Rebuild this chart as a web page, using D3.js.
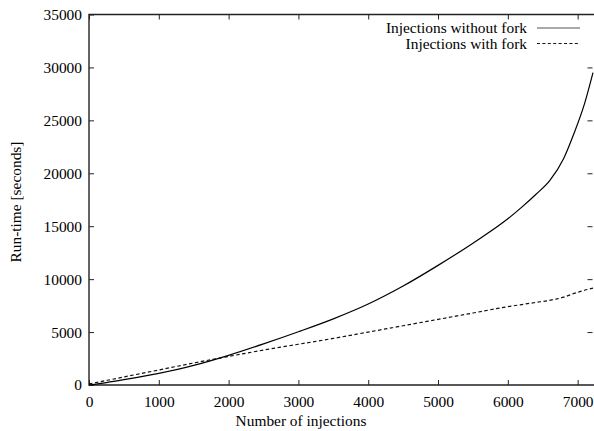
<!DOCTYPE html>
<html>
<head>
<meta charset="utf-8">
<script src="https://cdn.jsdelivr.net/npm/d3@7"></script>
<style>
  body { margin: 0; background: #fff; }
  text { font-family: "Liberation Serif", "DejaVu Serif", serif; font-size: 15.4px; fill: #000; }
</style>
</head>
<body>
<div class="chart"></div>
<script>
// data
var injections = [0, 250, 500, 1000, 1500, 2000, 2500, 3000, 3500, 4000, 4500, 5000,
  5500, 6000, 6200, 6400, 6600, 6800, 6950, 7100, 7220];
var withoutFork = [0, 230, 500, 1100, 1850, 2800, 3880, 5030, 6250, 7650, 9350, 11300,
  13400, 15700, 16800, 18000, 19300, 21400, 23800, 26600, 29500];
var withFork = [100, 430, 760, 1420, 2080, 2700, 3300, 3850, 4400, 5000, 5600, 6200,
  6800, 7400, 7600, 7800, 8000, 8300, 8650, 8950, 9150];
var xTicks = [0, 1000, 2000, 3000, 4000, 5000, 6000, 7000];
var yTicks = [0, 5000, 10000, 15000, 20000, 25000, 30000, 35000];
var seriesNames = ["Injections without fork", "Injections with fork"];

var svgWidth = 594;
var svgHeight = 431;

var margin = { top: 14.5, bottom: 46, right: 1, left: 89 };

var width = svgWidth - margin.left - margin.right;
var height = svgHeight - margin.top - margin.bottom;

var svg = d3
  .select(".chart")
  .append("svg")
  .attr("width", svgWidth)
  .attr("height", svgHeight);

var chartGroup = svg
  .append("g")
  .attr("transform", `translate(${margin.left}, ${margin.top})`);

// scales
var xScale = d3.scaleLinear().domain([0, 7220]).range([0, width]);
var yScale = d3.scaleLinear().domain([0, 35000]).range([height, 0]);

var axisColor = "#222";
var plain = d3.format("d");

// frame (right edge sits just off the canvas)
chartGroup
  .append("path")
  .attr("d", `M${width + 2},0H0V${height}H${width + 2}`)
  .attr("fill", "none")
  .attr("stroke", axisColor)
  .attr("stroke-width", 1.4);

// axes, ticks pointing inward like gnuplot
var bottomAxis = d3.axisBottom(xScale).tickValues(xTicks).tickSize(-5).tickPadding(11).tickFormat(plain);
var topAxis = d3.axisTop(xScale).tickValues(xTicks).tickSize(-5).tickFormat("");
var leftAxis = d3.axisLeft(yScale).tickValues(yTicks).tickSize(-5).tickPadding(7).tickFormat(plain);
var rightAxis = d3.axisRight(yScale).tickValues(yTicks.slice(1, -1)).tickSize(-5).tickFormat("");

function styleAxis(g) {
  g.select(".domain").remove();
  g.selectAll(".tick line").attr("stroke", axisColor).attr("stroke-width", 1);
  g.selectAll(".tick text")
    .attr("font-family", null)
    .attr("font-size", null)
    .attr("fill", "#000");
}

chartGroup.append("g").attr("transform", `translate(0, ${height})`).call(bottomAxis).call(styleAxis);
chartGroup.append("g").call(topAxis).call(styleAxis);
chartGroup.append("g").call(leftAxis).call(styleAxis);
chartGroup.append("g").attr("transform", `translate(${xScale(7220) - 0.5}, 0)`).call(rightAxis).call(styleAxis);

// lines
var line = d3
  .line()
  .x((d) => xScale(d[0]))
  .y((d) => yScale(d[1]))
  .curve(d3.curveMonotoneX);

var solidData = injections.map((x, i) => [x, withoutFork[i]]);
var dashedData = injections.map((x, i) => [x, withFork[i]]);

chartGroup
  .append("path")
  .datum(dashedData)
  .attr("d", line)
  .attr("fill", "none")
  .attr("stroke", "#111")
  .attr("stroke-width", 1.2)
  .attr("stroke-dasharray", "3.5,2.5");

chartGroup
  .append("path")
  .datum(solidData)
  .attr("d", line)
  .attr("fill", "none")
  .attr("stroke", "#000")
  .attr("stroke-width", 1.2);

// axis titles
svg
  .append("text")
  .attr("x", 301)
  .attr("y", 426)
  .attr("text-anchor", "middle")
  .text("Number of injections");

svg
  .append("text")
  .attr("transform", "translate(21, 202) rotate(-90)")
  .attr("text-anchor", "middle")
  .text("Run-time [seconds]");

// legend
var legend = svg.append("g");
var legendRows = [
  { name: seriesNames[0], y: 28, dash: null, color: "#555" },
  { name: seriesNames[1], y: 43.5, dash: "3,2.4", color: "#111" },
];

legendRows.forEach(function (r) {
  legend
    .append("text")
    .attr("x", 527)
    .attr("y", r.y + 5)
    .attr("text-anchor", "end")
    .text(r.name);
  legend
    .append("line")
    .attr("x1", 537)
    .attr("x2", 580)
    .attr("y1", r.y)
    .attr("y2", r.y)
    .attr("stroke", r.color)
    .attr("stroke-width", 1.2)
    .attr("stroke-dasharray", r.dash);
});
</script>
</body>
</html>
